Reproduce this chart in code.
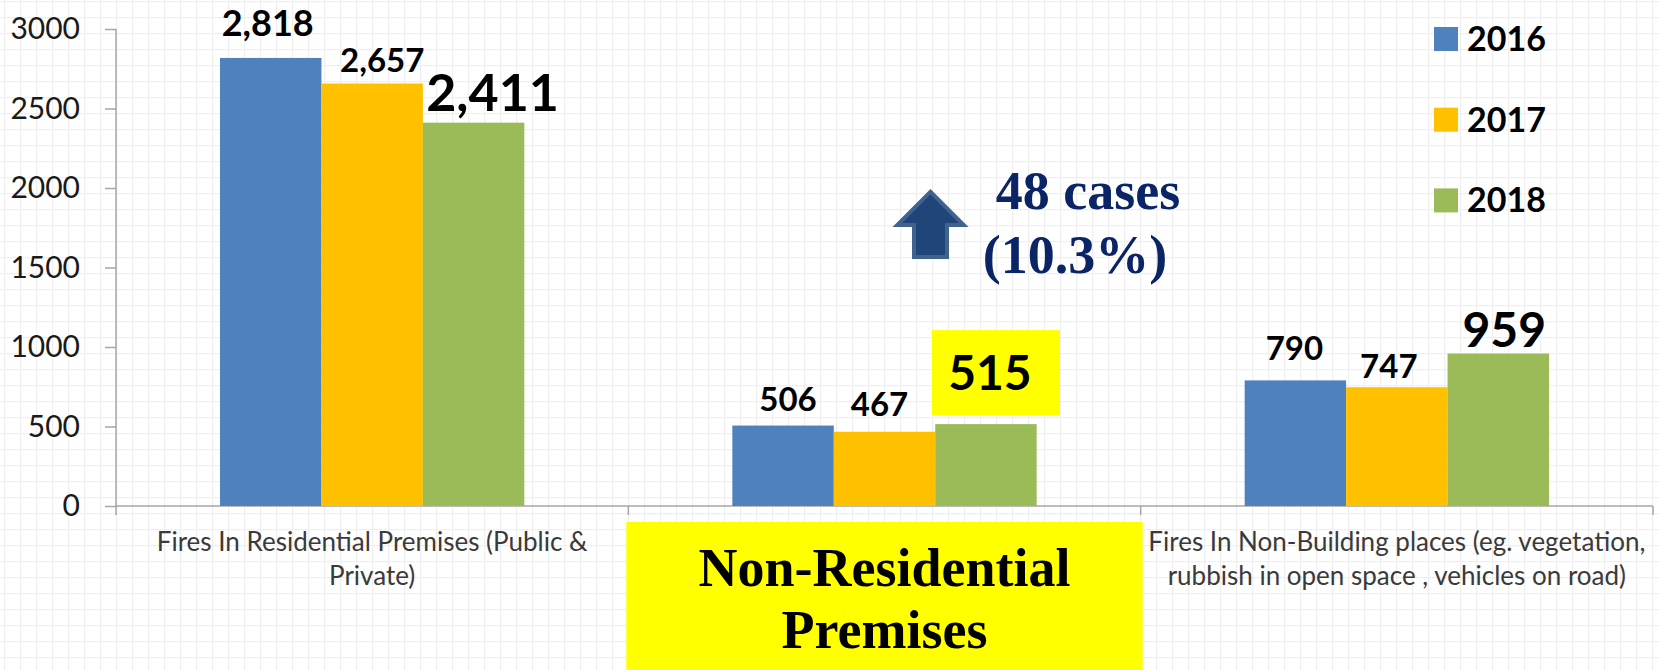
<!DOCTYPE html>
<html>
<head>
<meta charset="utf-8">
<script src="https://cdn.jsdelivr.net/npm/d3@7"></script>
<style>
  body { margin: 0; background: #fff; }
  .chart svg { display: block; }
</style>
</head>
<body>
<div class="chart"></div>
<script>
// DATA ------------------------------------

const categories = ["Residential", "Non-Residential", "Non-Building"];
const categoryLines = [
  ["Fires In Residential Premises (Public &", "Private)"],
  ["Non-Residential", "Premises"],
  ["Fires In Non-Building places (eg. vegetation,", "rubbish in open space , vehicles on road)"]
];
const years = ["2016", "2017", "2018"];
const fires2016 = [2818, 506, 790];
const fires2017 = [2657, 467, 747];
const fires2018 = [2411, 515, 959];
const yTicks = [0, 500, 1000, 1500, 2000, 2500, 3000];

const changeText = ["48 cases", "(10.3%)"];

// STYLE -----------------------------------

const colors = ["#4F81BD", "#FFC000", "#9BBB59"];
// label font sizes and manual nudges, [series][category]
const labelSize = [[36, 33, 33], [33, 33, 33], [52, 48, 48]];
const labelDx = [[-3, 5, -1], [10, -5, -8], [19, 4, 6]];
const labelGap = [[22, 15, 20], [12, 16, 9], [12, 34, 7]];

const totalWidth = 1659;
const totalHeight = 670;
const margin = { top: 29, left: 116, right: 6, bottom: 164 };
const height = totalHeight - margin.top - margin.bottom;

const sansFont = "Lato, 'Open Sans', sans-serif";
const serifFont = "'Liberation Serif', 'Times New Roman', serif";

const series = [fires2016, fires2017, fires2018];
const data = categories.map((c, i) => ({
  category: c,
  values: years.map((y, s) => ({ year: y, s: s, i: i, value: series[s][i] }))
}));

// CHART INIT ------------------------------

const svg = d3
  .select(".chart")
  .append("svg")
  .attr("width", totalWidth)
  .attr("height", totalHeight);

// faint background grid of the slide
const defs = svg.append("defs");
const pat = defs
  .append("pattern")
  .attr("id", "bg-grid")
  .attr("width", 16)
  .attr("height", 16)
  .attr("x", 4)
  .attr("y", 1)
  .attr("patternUnits", "userSpaceOnUse");
pat.append("path")
  .attr("d", "M 0 0.5 H 16 M 0.5 0 V 16")
  .attr("stroke", "#efefef")
  .attr("stroke-width", 1.5)
  .attr("fill", "none");
svg.append("rect")
  .attr("width", totalWidth)
  .attr("height", totalHeight)
  .attr("fill", "url(#bg-grid)");

const x0 = d3
  .scaleBand()
  .domain(categories)
  .range([margin.left, totalWidth - margin.right]);

const groupWidth = x0.bandwidth() * 0.594;
const x1 = d3
  .scaleBand()
  .domain(years)
  .range([(x0.bandwidth() - groupWidth) / 2, (x0.bandwidth() + groupWidth) / 2]);

const y = d3
  .scaleLinear()
  .domain([0, 3000])
  .range([margin.top + height, margin.top]);

// y axis
const yAxis = d3
  .axisLeft(y)
  .tickValues(yTicks)
  .tickFormat(d3.format("d"))
  .tickSize(11)
  .tickPadding(25);
const gy = svg
  .append("g")
  .attr("class", "axis y-axis")
  .attr("transform", `translate(${margin.left},0)`)
  .call(yAxis);
gy.select(".domain").remove();
gy.selectAll(".tick line").attr("stroke", "#a6a6a6").attr("stroke-width", 1.5);
gy.selectAll(".tick text")
  .attr("font-family", sansFont)
  .attr("font-size", 30)
  .attr("fill", "#1a1a1a");

// axis lines
svg.append("line")
  .attr("x1", margin.left).attr("x2", margin.left)
  .attr("y1", y(3000)).attr("y2", y(0) + 9)
  .attr("stroke", "#a6a6a6").attr("stroke-width", 1.5);
svg.append("line")
  .attr("x1", margin.left).attr("x2", totalWidth - margin.right)
  .attr("y1", y(0)).attr("y2", y(0))
  .attr("stroke", "#a6a6a6").attr("stroke-width", 1.5);
svg.selectAll(".cat-tick")
  .data(categories)
  .enter()
  .append("line")
  .attr("class", "cat-tick")
  .attr("x1", (d) => x0(d) + x0.bandwidth())
  .attr("x2", (d) => x0(d) + x0.bandwidth())
  .attr("y1", y(0))
  .attr("y2", y(0) + 9)
  .attr("stroke", "#a6a6a6")
  .attr("stroke-width", 1.5);

// yellow highlight behind the 2018 non-residential value
const hlX = x0(categories[1]) + x1(years[2]) + x1.bandwidth() / 2 + labelDx[2][1];
const hlBase = y(fires2018[1]) - labelGap[2][1];
svg.append("rect")
  .attr("x", hlX - 58)
  .attr("y", hlBase - 60)
  .attr("width", 128)
  .attr("height", 85)
  .attr("fill", "#FFFF00");

// bars
const groups = svg
  .selectAll(".group")
  .data(data)
  .enter()
  .append("g")
  .attr("class", "group")
  .attr("transform", (d) => `translate(${x0(d.category)},0)`);

groups
  .selectAll(".bar")
  .data((d) => d.values)
  .enter()
  .append("rect")
  .attr("class", "bar")
  .attr("x", (d) => x1(d.year))
  .attr("y", (d) => y(d.value))
  .attr("width", x1.bandwidth())
  .attr("height", (d) => y(0) - y(d.value))
  .attr("fill", (d) => colors[d.s]);

// value labels
groups
  .selectAll(".value-label")
  .data((d) => d.values)
  .enter()
  .append("text")
  .attr("class", "value-label")
  .attr("x", (d) => x1(d.year) + x1.bandwidth() / 2 + labelDx[d.s][d.i])
  .attr("y", (d) => y(d.value) - labelGap[d.s][d.i])
  .attr("text-anchor", "middle")
  .attr("font-family", sansFont)
  .attr("font-weight", 700)
  .attr("font-size", (d) => labelSize[d.s][d.i])
  .attr("fill", "#000")
  .text((d) => d3.format(",")(d.value));

// category labels
categoryLines.forEach((lines, i) => {
  const cx = x0(categories[i]) + x0.bandwidth() / 2;
  if (i === 1) {
    svg.append("rect")
      .attr("x", x0(categories[i]) - 2)
      .attr("y", y(0) + 16)
      .attr("width", x0.bandwidth() + 4)
      .attr("height", totalHeight - y(0) - 16)
      .attr("fill", "#FFFF00");
    const t = svg.append("text")
      .attr("text-anchor", "middle")
      .attr("font-family", serifFont)
      .attr("font-weight", 700)
      .attr("font-size", 54)
      .attr("fill", "#000");
    lines.forEach((l, k) => {
      t.append("tspan").attr("x", cx).attr("y", 586 + k * 62).text(l);
    });
  } else {
    const t = svg.append("text")
      .attr("text-anchor", "middle")
      .attr("font-family", sansFont)
      .attr("font-size", 26)
      .attr("fill", "#3a3a3a");
    lines.forEach((l, k) => {
      t.append("tspan").attr("x", cx).attr("y", 551 + k * 34).text(l);
    });
  }
});

// legend
const legend = svg
  .selectAll(".legend")
  .data(years)
  .enter()
  .append("g")
  .attr("class", "legend")
  .attr("transform", (d, i) => `translate(1434,${27 + i * 80.7})`);
legend.append("rect")
  .attr("width", 24)
  .attr("height", 24)
  .attr("fill", (d, i) => colors[i]);
legend.append("text")
  .attr("x", 33)
  .attr("y", 24)
  .attr("font-family", sansFont)
  .attr("font-weight", 700)
  .attr("font-size", 34)
  .attr("fill", "#000")
  .text((d) => d);

// change annotation: arrow + text
const ax = x0(categories[1]) + x0.bandwidth() / 2 + 46;
const arrow = (inset) => {
  const tipY = 189 + inset * 1.4, baseY = 227 - inset, botY = 259 - inset;
  const hw = 38 - inset * 2.4, sw = 18.5 - inset;
  return `M${ax},${tipY} L${ax + hw},${baseY} L${ax + sw},${baseY} L${ax + sw},${botY} ` +
    `L${ax - sw},${botY} L${ax - sw},${baseY} L${ax - hw},${baseY} Z`;
};
svg.append("path").attr("d", arrow(0)).attr("fill", "#41628f");
svg.append("path").attr("d", arrow(4)).attr("fill", "#1F4579");

svg.append("text")
  .attr("x", 1088)
  .attr("y", 209)
  .attr("text-anchor", "middle")
  .attr("font-family", serifFont)
  .attr("font-weight", 700)
  .attr("font-size", 54)
  .attr("fill", "#0a2466")
  .text(changeText[0]);
svg.append("text")
  .attr("x", 1075)
  .attr("y", 273)
  .attr("text-anchor", "middle")
  .attr("font-family", serifFont)
  .attr("font-weight", 700)
  .attr("font-size", 54)
  .attr("fill", "#0a2466")
  .text(changeText[1]);
</script>
</body>
</html>
